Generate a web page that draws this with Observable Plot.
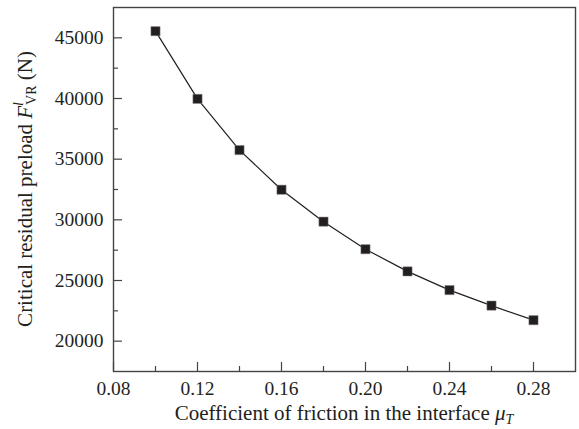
<!DOCTYPE html>
<html>
<head>
<meta charset="utf-8">
<script src="https://cdn.jsdelivr.net/npm/d3@7"></script>
<script src="https://cdn.jsdelivr.net/npm/@observablehq/plot@0.6"></script>
<style>
  html, body { margin: 0; padding: 0; background: #fff; }
</style>
</head>
<body>
<div id="chart"></div>
<script>
const mu = [0.10, 0.12, 0.14, 0.16, 0.18, 0.20, 0.22, 0.24, 0.26, 0.28];
const preload = [45550, 39970, 35750, 32480, 29850, 27580, 25750, 24210, 22930, 21730];
const xTicks = [0.08, 0.12, 0.16, 0.20, 0.24, 0.28];
const xMinor = [0.10, 0.14, 0.18, 0.22, 0.26];
const yTicks = [20000, 25000, 30000, 35000, 40000, 45000];
const yMinor = [22500, 27500, 32500, 37500, 42500];

const data = mu.map((m, i) => ({mu: m, f: preload[i]}));

const W = 579, H = 429, mL = 113, mT = 7, mR = 4, mB = 58;
const innerW = W - mL - mR, innerH = H - mT - mB;
const ink = "#231f20";
const font = "'Liberation Serif', 'DejaVu Serif', serif";

const chart = Plot.plot({
  width: W, height: H,
  marginLeft: mL, marginTop: mT, marginRight: mR, marginBottom: mB,
  x: {domain: [0.08, 0.30]},
  y: {domain: [17500, 47500]},
  style: {fontFamily: font, fontSize: "19px", color: ink, background: "#fff"},
  marks: [
    Plot.ruleX(xTicks, {x: d => d, insetTop: innerH - 9, stroke: "#444", strokeWidth: 1.2}),
    Plot.ruleX(xMinor, {x: d => d, insetTop: innerH - 5, stroke: "#444", strokeWidth: 1.2}),
    Plot.ruleY(yTicks, {y: d => d, insetRight: innerW - 9, stroke: "#444", strokeWidth: 1.2}),
    Plot.ruleY(yMinor, {y: d => d, insetRight: innerW - 5, stroke: "#444", strokeWidth: 1.2}),
    Plot.axisX(xTicks, {tickSize: 0, tickPadding: 10, tickFormat: d => d.toFixed(2), label: null, fontSize: 19.5}),
    Plot.axisY(yTicks, {tickSize: 0, tickPadding: 10, tickFormat: d => String(d), label: null, fontSize: 19.5}),
    Plot.frame({stroke: "#444", strokeWidth: 1.4}),
    Plot.line(data, {x: "mu", y: "f", stroke: ink, strokeWidth: 1.2}),
    Plot.dot(data, {x: "mu", y: "f", symbol: "square", r: 5.2, fill: ink, stroke: "#888", strokeWidth: 0.5})
  ]
});

const svg = d3.select(chart);
// x-axis label
const xl = svg.append("text")
  .attr("x", mL + innerW / 2)
  .attr("y", 420)
  .attr("text-anchor", "middle")
  .attr("font-family", font)
  .attr("font-size", 21)
  .attr("fill", ink);
xl.append("tspan").text("Coefficient of friction in the interface ");
xl.append("tspan").attr("font-style", "italic").text("μ");
xl.append("tspan").attr("font-style", "italic").attr("font-size", 14).attr("dy", 4).text("T");

// y-axis label
const yl = svg.append("text")
  .attr("transform", `translate(32,${mT + innerH / 2}) rotate(-90)`)
  .attr("text-anchor", "middle")
  .attr("font-family", font)
  .attr("font-size", 21)
  .attr("fill", ink);
yl.append("tspan").text("Critical residual preload ");
yl.append("tspan").attr("font-style", "italic").text("F");
yl.append("tspan").attr("font-style", "italic").attr("font-size", 14).attr("dy", -9).text("l");
yl.append("tspan").attr("font-size", 14).attr("dx", -3).attr("dy", 13).text("VR");
yl.append("tspan").attr("dy", -4).text(" (N)");

document.getElementById("chart").appendChild(chart);
</script>
</body>
</html>
